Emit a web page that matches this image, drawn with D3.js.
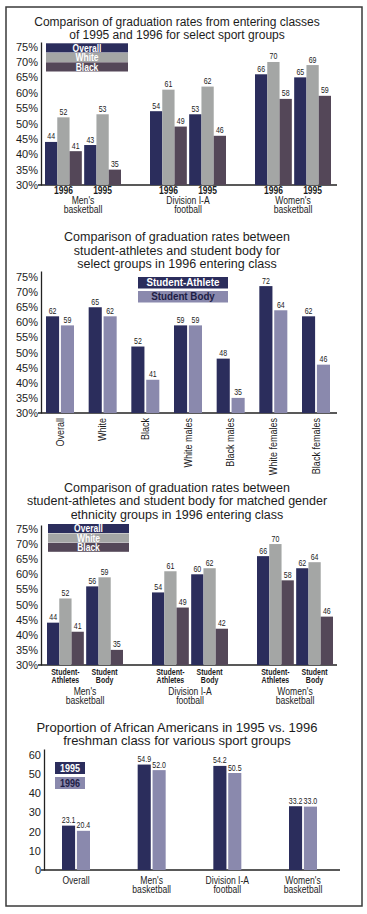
<!DOCTYPE html>
<html lang="en">
<head>
<meta charset="utf-8">
<title>Graduation rates</title>
<script src="https://cdn.jsdelivr.net/npm/d3@7"></script>
<style>
body { margin: 0; background: #fff; }
svg text { font-family: "Liberation Sans", Arial, sans-serif; fill: #1c1c1c; }
</style>
</head>
<body>
<div id="chart"></div>
<script>
// ---- data ----
// chart 1: entering classes 1995 vs 1996 by sport
var sports = ["Men's|basketball", "Division I-A|football", "Women's|basketball"];
var years = ["1996", "1995"];
var races = ["Overall", "White", "Black"];
var overall1996 = [44, 54, 66];
var white1996 = [52, 61, 70];
var black1996 = [41, 49, 58];
var overall1995 = [43, 53, 65];
var white1995 = [53, 62, 69];
var black1995 = [35, 46, 59];

// chart 2: student-athletes vs student body, 1996 class
var groups2 = ["Overall", "White", "Black", "White males", "Black males", "White females", "Black females"];
var athletes2 = [62, 65, 52, 59, 48, 72, 62];
var studentBody2 = [59, 62, 41, 59, 35, 64, 46];

// chart 3: matched gender ethnicity groups
var populations = ["Student-|Athletes", "Student|Body"];
var athOverall = [44, 54, 66];
var athWhite = [52, 61, 70];
var athBlack = [41, 49, 58];
var bodyOverall = [56, 60, 62];
var bodyWhite = [59, 62, 64];
var bodyBlack = [35, 42, 46];

// chart 4: proportion of African Americans
var groups4 = ["Overall", "Men's|basketball", "Division I-A|football", "Women's|basketball"];
var share1995 = [23.1, 54.9, 54.2, 33.2];
var share1996 = [20.4, 52.0, 50.5, 33.0];

var pctTicks = [30, 35, 40, 45, 50, 55, 60, 65, 70, 75];
var countTicks = [0, 10, 20, 30, 40, 50, 60];

// ---- colours ----
var navy = "#2b2d5c", grey = "#a4a6a5", plum = "#544758", lavender = "#8a89ad";
var raceColor = d3.scaleOrdinal().domain(races).range([navy, grey, plum]);

var svg = d3.select("#chart").append("svg")
    .attr("width", 367)
    .attr("height", 914);

svg.append("rect")
    .attr("x", 6).attr("y", 7)
    .attr("width", 356).attr("height", 899)
    .attr("fill", "#fff")
    .attr("stroke", "#3a3a3a")
    .attr("stroke-width", 1.5);

// condensed look: squeeze the text horizontally around its anchor
function narrowText(x, y, txt, size, opts) {
    opts = opts || {};
    var t = svg.append("text")
        .attr("transform", "translate(" + x + "," + y + ")" + (opts.rotate ? " rotate(" + opts.rotate + ")" : "") +
              " scale(" + (opts.squeeze || 0.82) + ",1)")
        .attr("text-anchor", opts.anchor || "middle")
        .attr("font-size", size)
        .attr("font-weight", opts.bold ? "bold" : "normal")
        .text(txt);
    if (opts.dy) t.attr("dy", opts.dy);
    if (opts.fill) t.style("fill", opts.fill);
    return t;
}

function title(lines, y0, step, size) {
    lines.forEach(function(t, i) {
        svg.append("text")
            .attr("x", 177).attr("y", y0 + i * step)
            .attr("text-anchor", "middle")
            .attr("font-size", size)
            .text(t);
    });
}

function axes(y, ticks, fmt, xAxis, xEnd) {
    var g = svg.append("g").attr("transform", "translate(" + xAxis + ",0)");
    g.call(d3.axisLeft(y).tickValues(ticks).tickFormat(fmt).tickSize(0).tickSizeOuter(0).tickPadding(3));
    g.select(".domain").attr("stroke", "#222").attr("stroke-width", 1.3);
    g.selectAll(".tick text")
        .attr("font-size", 11)
        .attr("font-family", "'Liberation Sans', Arial, sans-serif")
        .attr("fill", "#1c1c1c");
    var base = y(ticks[0]);
    svg.append("line")
        .attr("x1", xAxis - 3).attr("x2", xEnd)
        .attr("y1", base).attr("y2", base)
        .attr("stroke", "#222").attr("stroke-width", 1.3);
}

function twoLines(label, x, y0, step, size, bold, squeeze) {
    label.split("|").forEach(function(t, i) {
        narrowText(x, y0 + i * step, t, size, { bold: bold, squeeze: squeeze });
    });
}

function valueLabel(x, y, txt) {
    narrowText(x, y - 2.5, txt, 9, { squeeze: 0.78 });
}

function legend(items, colors, textColors, x, y0, w, h, step, size, squeeze) {
    items.forEach(function(t, i) {
        svg.append("rect")
            .attr("x", x).attr("y", y0 + i * step)
            .attr("width", w).attr("height", h)
            .attr("fill", colors[i]);
        narrowText(x + w / 2, y0 + i * step + h / 2, t, size,
            { bold: true, squeeze: squeeze, dy: "0.36em", fill: textColors[i] });
    });
}

// ---- chart 1 ----
title(["Comparison of graduation rates from entering classes",
       "of 1995 and 1996 for select sport groups"], 26, 12.5, 12);

var y1 = d3.scaleLinear().domain([30, 76.5]).range([185, 42]);
var x1 = d3.scalePoint().domain(sports).range([83, 293]);
var x1Year = d3.scaleBand().domain(years).range([-38, 38]).paddingInner(0.06);
var x1Race = d3.scaleBand().domain(races).range([0, x1Year.bandwidth()]);
var series1 = {
    "1996": [overall1996, white1996, black1996],
    "1995": [overall1995, white1995, black1995]
};
axes(y1, pctTicks, function(d) { return d + "%"; }, 41, 337);

sports.forEach(function(sport, i) {
    years.forEach(function(year) {
        var gx = x1(sport) + x1Year(year);
        races.forEach(function(race, k) {
            var v = series1[year][k][i];
            svg.append("rect")
                .attr("x", gx + x1Race(race))
                .attr("y", y1(v))
                .attr("width", x1Race.bandwidth())
                .attr("height", y1(30) - y1(v))
                .attr("fill", raceColor(race));
            valueLabel(gx + x1Race(race) + x1Race.bandwidth() / 2, y1(v), v);
        });
        twoLines(year, gx + x1Year.bandwidth() / 2, 193.5, 10, 10, true, 0.85);
    });
    twoLines(sport, x1(sport), 203.5, 9.7, 10, false, 0.86);
});
legend(races, [navy, grey, plum], ["#fff", "#fff", "#fff"], 46, 43.3, 82, 9.2, 9.5, 10, 0.85);

// ---- chart 2 ----
title(["Comparison of graduation rates between",
       "student-athletes and student body for",
       "select groups in 1996 entering class"], 241, 13.5, 12.5);

var y2 = d3.scaleLinear().domain([30, 77]).range([413, 271]);
var x2 = d3.scalePoint().domain(groups2).range([60, 316]);
var x2Pop = d3.scaleBand().domain(["athletes", "body"]).range([-14, 14]).paddingInner(0.12);
axes(y2, pctTicks, function(d) { return d + "%"; }, 41, 337);

groups2.forEach(function(grp, i) {
    [["athletes", athletes2[i], navy], ["body", studentBody2[i], lavender]].forEach(function(p) {
        var bx = x2(grp) + x2Pop(p[0]);
        svg.append("rect")
            .attr("x", bx).attr("y", y2(p[1]))
            .attr("width", x2Pop.bandwidth())
            .attr("height", y2(30) - y2(p[1]))
            .attr("fill", p[2]);
        valueLabel(bx + x2Pop.bandwidth() / 2, y2(p[1]), p[1]);
    });
    narrowText(x2(grp), y2(30) + 5, grp, 10.5, { rotate: -90, anchor: "end", dy: "0.35em", squeeze: 0.86 });
});
legend(["Student-Athlete", "Student Body"], [navy, lavender], ["#fff", "#1d1d45"], 138, 277, 90, 11.5, 14, 10, 0.98);

// ---- chart 3 ----
title(["Comparison of graduation rates between",
       "student-athletes and student body for matched gender",
       "ethnicity groups in 1996 entering class"], 492, 13.3, 12.5);

var y3 = d3.scaleLinear().domain([30, 76.3]).range([665, 525]);
var x3 = d3.scalePoint().domain(sports).range([85, 295]);
var x3Pop = d3.scaleBand().domain(populations).range([-38, 38]).paddingInner(0.06);
var x3Race = d3.scaleBand().domain(races).range([0, x3Pop.bandwidth()]);
var series3 = {};
series3[populations[0]] = [athOverall, athWhite, athBlack];
series3[populations[1]] = [bodyOverall, bodyWhite, bodyBlack];
axes(y3, pctTicks, function(d) { return d + "%"; }, 41, 337);

sports.forEach(function(sport, i) {
    populations.forEach(function(pop) {
        var gx = x3(sport) + x3Pop(pop);
        races.forEach(function(race, k) {
            var v = series3[pop][k][i];
            svg.append("rect")
                .attr("x", gx + x3Race(race))
                .attr("y", y3(v))
                .attr("width", x3Race.bandwidth())
                .attr("height", y3(30) - y3(v))
                .attr("fill", raceColor(race));
            valueLabel(gx + x3Race(race) + x3Race.bandwidth() / 2, y3(v), v);
        });
        twoLines(pop, gx + x3Pop.bandwidth() / 2, 674.5, 8.2, 9, true, 0.78);
    });
    twoLines(sport, x3(sport), 694.5, 9.7, 10, false, 0.86);
});
legend(races, [navy, grey, plum], ["#fff", "#fff", "#fff"], 48, 524, 81, 9, 9.4, 10, 0.85);

// ---- chart 4 ----
title(["Proportion of African Americans in 1995 vs. 1996",
       "freshman class for various sport groups"], 731.5, 13.5, 13);

var y4 = d3.scaleLinear().domain([0, 63]).range([870, 749]);
var x4 = d3.scalePoint().domain(groups4).range([76, 303]);
var x4Year = d3.scaleBand().domain(["1995", "1996"]).range([-14, 14]).paddingInner(0.12);
axes(y4, countTicks, d3.format("d"), 44, 340);

groups4.forEach(function(grp, i) {
    [["1995", share1995[i], navy], ["1996", share1996[i], lavender]].forEach(function(p) {
        var bx = x4(grp) + x4Year(p[0]);
        svg.append("rect")
            .attr("x", bx).attr("y", y4(p[1]))
            .attr("width", x4Year.bandwidth())
            .attr("height", y4(0) - y4(p[1]))
            .attr("fill", p[2]);
        valueLabel(bx + x4Year.bandwidth() / 2, y4(p[1]), d3.format(".1f")(p[1]));
    });
    twoLines(grp, x4(grp), 883.5, 9.5, 10, false, 0.86);
});
legend(["1995", "1996"], [navy, lavender], ["#fff", "#1d1d45"], 55, 762, 30, 12, 15, 11, 0.82);
</script>
</body>
</html>
